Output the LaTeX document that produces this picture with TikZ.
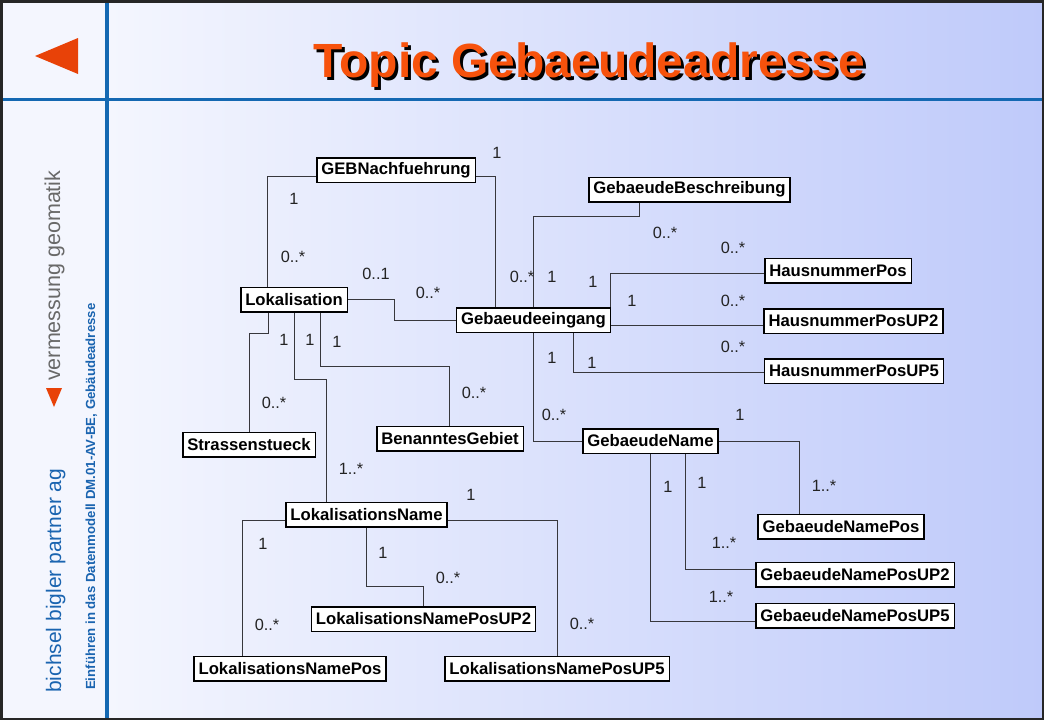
\documentclass[tikz,border=0pt]{standalone}
\usepackage{fontspec}
\setmainfont{Liberation Sans}
\usetikzlibrary{calc}

\definecolor{rulerblue}{RGB}{20,104,178}
\definecolor{signred}{RGB}{232,66,8}
\definecolor{titleorange}{RGB}{247,82,12}
\definecolor{sidebg}{RGB}{244,246,254}
\definecolor{bgleft}{RGB}{244,246,254}
\definecolor{bgright}{RGB}{191,202,250}
\definecolor{firmblue}{RGB}{26,100,176}
\definecolor{firmgrey}{RGB}{105,105,105}
\definecolor{linegrey}{RGB}{55,55,60}
\definecolor{labelgrey}{RGB}{35,35,35}

\begin{document}
\begin{tikzpicture}[x=1pt,y=-1pt,
  cls/.style={draw=black, line width=0.9pt, fill=white,
    font=\fontsize{16.7}{18}\selectfont\bfseries, inner xsep=4.3pt, inner ysep=0pt,
    minimum height=24pt},
  mult/.style={font=\fontsize{16.3}{18}\selectfont, text=labelgrey, inner sep=0pt},
  assoc/.style={draw=linegrey, line width=1pt}]

\useasboundingbox (0,0) rectangle (1044,720);

% page background: plain side bar, shaded main area
\fill[sidebg] (0,0) rectangle (107,720);
\shade[left color=bgleft, right color=bgright] (107,0) rectangle (1044,720);

% ruler lines and frame
\draw[rulerblue, line width=3.5pt] (107,0) -- (107,720);
\draw[rulerblue, line width=3.5pt] (0,99.5) -- (1044,99.5);
\draw[black!85, line width=2.5pt] (1.25,1.25) rectangle (1042.75,718.75);

% back arrow
\fill[signred] (35,56) -- (78,38) -- (78,74) -- cycle;

% title with drop shadow
\node[anchor=base, font=\fontsize{48}{52}\selectfont\bfseries, text=black, inner sep=0pt]
  (titleshadow) at (592.5,80) {Topic Gebaeudeadresse};
\node[anchor=base, font=\fontsize{48}{52}\selectfont\bfseries, text=titleorange, inner sep=0pt]
  (title) at (589.5,77) {Topic Gebaeudeadresse};

% side bar texts
\node[rotate=90, anchor=base west, inner sep=0pt, font=\fontsize{21}{24}\selectfont, text=firmblue]
  (firm) at (61,693) {bichsel bigler partner ag};
\fill[signred] (46,388) -- (62,388) -- (54,407) -- cycle;
\node[rotate=90, anchor=base west, inner sep=0pt, font=\fontsize{21.5}{24}\selectfont, text=firmgrey]
  (trade) at (60,381) {vermessung geomatik};
\node[rotate=90, anchor=base west, inner sep=0pt, font=\fontsize{13.2}{15}\selectfont\bfseries, text=firmblue]
  (course) at (95,690) {Einführen in das Datenmodell DM.01-AV-BE, Gebäudeadresse};

% classes
\node[cls] (geb)  at (396,170)   {GEBNachfuehrung};
\node[cls] (gb)   at (689.5,189.5) {GebaeudeBeschreibung};
\node[cls] (lok)  at (294,299.5) {Lokalisation};
\node[cls] (gei)  at (533.5,320) {Gebaeudeeingang};
\node[cls] (hp)   at (838,270.5) {HausnummerPos};
\node[cls] (hp2)  at (853.5,321) {HausnummerPosUP2};
\node[cls] (hp5)  at (854,371)   {HausnummerPosUP5};
\node[cls] (ss)   at (249,444.5) {Strassenstueck};
\node[cls] (bg)   at (450,438.5) {BenanntesGebiet};
\node[cls] (gn)   at (650.5,441) {GebaeudeName};
\node[cls] (gnp)  at (841,526.5) {GebaeudeNamePos};
\node[cls] (gnp2) at (855,574.5) {GebaeudeNamePosUP2};
\node[cls] (gnp5) at (855,615.5) {GebaeudeNamePosUP5};
\node[cls] (ln)   at (366.5,514.5) {LokalisationsName};
\node[cls] (lnp2) at (423.5,619) {LokalisationsNamePosUP2};
\node[cls] (lnp)  at (290,668.5) {LokalisationsNamePos};
\node[cls] (lnp5) at (557,668.5) {LokalisationsNamePosUP5};

% associations (drawn after the boxes, so the outlines are redrawn below)
\draw[assoc] ([yshift=-6pt]geb.west) -| ([xshift=-27pt]lok.north);
\draw[assoc] ([yshift=-6pt]geb.east) -| ([xshift=-38.5pt]gei.north);
\draw[assoc] (lok.east) -- ++(47,0) |- (gei.west);
\draw[assoc] ([xshift=-50.5pt]gb.south) -- ++(0,15) -| (gei.north);
\draw[assoc] ([yshift=-2.5pt]hp.west) -| (gei.north east);
\draw[assoc] ([yshift=-5pt]gei.east) -- ([yshift=-5pt]gei.east -| hp2.west);
\draw[assoc] ([xshift=39.5pt]gei.south) |- ([yshift=-1pt]hp5.west);
\draw[assoc] (gei.south) |- (gn.west);
\draw[assoc] (gn.east) -| ([xshift=-42pt]gnp.north);
\draw[assoc] ([xshift=34.5pt]gn.south) |- ([yshift=5.5pt]gnp2.west);
\draw[assoc] (gn.south) |- ([yshift=-5.5pt]gnp5.west);
\draw[assoc] ([xshift=-26pt]lok.south) -- ++(0,22) -| (ss.north);
\draw[assoc] (lok.south) -- ++(0,68) -| ([xshift=-40.5pt]ln.north);
\draw[assoc] ([xshift=26pt]lok.south) -- ++(0,55) -| ([xshift=-1pt]bg.north);
\draw[assoc] ([yshift=-5.5pt]ln.west) -| ([xshift=-48pt]lnp.north);
\draw[assoc] (ln.south) -- ++(0,60) -| ([xshift=-0.5pt]lnp2.north);
\draw[assoc] ([yshift=-5.5pt]ln.east) -| (lnp5.north);

% box outlines on top of the line ends
\foreach \n in {geb,gb,lok,gei,hp,hp2,hp5,ss,bg,gn,gnp,gnp2,gnp5,ln,lnp2,lnp,lnp5}
  \draw[black, line width=0.9pt] (\n.north west) rectangle (\n.south east);

% multiplicities
\node[mult] (m1)  at (294,199)   {1};
\node[mult] (m2)  at (293,257)   {0..*};
\node[mult] (m3)  at (497,153)   {1};
\node[mult] (m4)  at (522,277)   {0..*};
\node[mult] (m5)  at (376,274)   {0..1};
\node[mult] (m6)  at (428,293)   {0..*};
\node[mult] (m7)  at (665,233)   {0..*};
\node[mult] (m8)  at (552,277)   {1};
\node[mult] (m9)  at (593,282)   {1};
\node[mult] (m10) at (733,248)   {0..*};
\node[mult] (m11) at (632,301)   {1};
\node[mult] (m12) at (733,301)   {0..*};
\node[mult] (m13) at (592,363)   {1};
\node[mult] (m14) at (733,347)   {0..*};
\node[mult] (m15) at (552,358)   {1};
\node[mult] (m16) at (554,415)   {0..*};
\node[mult] (m17) at (740,415)   {1};
\node[mult] (m18) at (824,486)   {1..*};
\node[mult] (m19) at (702,483)   {1};
\node[mult] (m20) at (724,543)   {1..*};
\node[mult] (m21) at (668,487)   {1};
\node[mult] (m22) at (721,597)   {1..*};
\node[mult] (m23) at (284,340)   {1};
\node[mult] (m24) at (274,403)   {0..*};
\node[mult] (m25) at (310,340)   {1};
\node[mult] (m26) at (351,469)   {1..*};
\node[mult] (m27) at (337,342)   {1};
\node[mult] (m28) at (474,393)   {0..*};
\node[mult] (m29) at (263,544)   {1};
\node[mult] (m30) at (267,625)   {0..*};
\node[mult] (m31) at (383,553)   {1};
\node[mult] (m32) at (448,578)   {0..*};
\node[mult] (m33) at (471,495)   {1};
\node[mult] (m34) at (582,624)   {0..*};
\end{tikzpicture}
\end{document}
